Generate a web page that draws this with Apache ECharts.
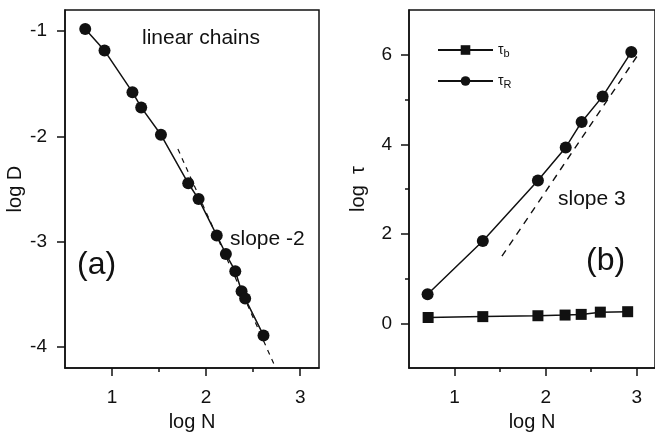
<!DOCTYPE html>
<html>
<head>
<meta charset="utf-8">
<script src="https://cdn.jsdelivr.net/npm/echarts@6/dist/echarts.min.js"></script>
<style>
  html, body { margin: 0; padding: 0; background: #fff; }
  #chart { width: 655px; height: 437px; }
</style>
</head>
<body>
<div id="chart"></div>
<script>
// panel (a): linear chains, log D vs log N
var logN_a = [0.715, 0.92, 1.217, 1.31, 1.52, 1.81, 1.92, 2.113, 2.21, 2.31, 2.377, 2.415, 2.61]
var logD = [-0.98, -1.185, -1.58, -1.725, -1.985, -2.445, -2.595, -2.94, -3.117, -3.28, -3.47, -3.54, -3.89]
var slopeA_N = [1.70, 2.73]
var slopeA_D = [-2.12, -4.18]

// panel (b): relaxation times
var logN_b = [0.71, 1.31, 1.915, 2.213, 2.39, 2.60, 2.90]
var tauB = [0.13, 0.15, 0.17, 0.185, 0.2, 0.25, 0.26]
var logN_r = [0.704, 1.31, 1.915, 2.22, 2.395, 2.625, 2.94]
var tauR = [0.65, 1.84, 3.19, 3.93, 4.50, 5.07, 6.06]
var slopeB_N = [1.52, 3.01]
var slopeB_T = [1.50, 5.99]

var xTicks = [1, 2, 3]
var xMinorTicks = [1.5, 2.5]
var yTicksA = [-4, -3, -2, -1]
var yTicksB = [0, 2, 4, 6]
var yMinorTicksB = [1, 3, 5]

var ink = '#111'
var font = 'Liberation Sans, Arial, sans-serif'

function pairs(xs, ys) {
  return xs.map(function (x, i) { return [x, ys[i]] })
}

function mainX(grid, name) {
  return {
    type: 'value', gridIndex: grid, position: 'bottom', min: 0.5, max: 3.2,
    name: name, nameLocation: 'middle', nameGap: 38,
    nameTextStyle: { color: ink, fontSize: 20, fontFamily: font },
    axisLine: { onZero: false, lineStyle: { color: ink, width: 1.5 } },
    axisTick: { customValues: xTicks, length: 8, lineStyle: { color: ink, width: 1.5 } },
    axisLabel: { customValues: xTicks, margin: 20, color: ink, fontSize: 19, fontFamily: font },
    splitLine: { show: false }
  }
}

function minorX(grid) {
  return {
    type: 'value', gridIndex: grid, position: 'bottom', min: 0.5, max: 3.2,
    axisLine: { show: false, onZero: false },
    axisTick: { customValues: xMinorTicks, length: 4, lineStyle: { color: ink, width: 1.5 } },
    axisLabel: { show: false },
    splitLine: { show: false }
  }
}

var chart = echarts.init(document.getElementById('chart'))

var option = {
  backgroundColor: '#fff',
  animation: false,
  grid: [
    { left: 65, top: 10, width: 254, height: 361, show: true, borderColor: ink, borderWidth: 1.5 },
    { left: 409, top: 10, width: 253, height: 361, show: true, borderColor: ink, borderWidth: 1.5 }
  ],
  xAxis: [mainX(0, 'log N'), minorX(0), mainX(1, 'log N'), minorX(1)],
  yAxis: [
    {
      type: 'value', gridIndex: 0, position: 'left', min: -4.2, max: -0.8,
      name: 'log D', nameLocation: 'middle', nameGap: 40,
      nameTextStyle: { color: ink, fontSize: 20, fontFamily: font },
      axisLine: { onZero: false, lineStyle: { color: ink, width: 1.5 } },
      axisTick: { customValues: yTicksA, length: 8, lineStyle: { color: ink, width: 1.5 } },
      axisLabel: { customValues: yTicksA, margin: 18, color: ink, fontSize: 19, fontFamily: font },
      splitLine: { show: false }
    },
    {
      type: 'value', gridIndex: 1, position: 'left', min: -1, max: 7,
      name: 'log  τ', nameLocation: 'middle', nameGap: 41,
      nameTextStyle: { color: ink, fontSize: 20, fontFamily: font },
      axisLine: { onZero: false, lineStyle: { color: ink, width: 1.5 } },
      axisTick: { customValues: yTicksB, length: 8, lineStyle: { color: ink, width: 1.5 } },
      axisLabel: { customValues: yTicksB, margin: 17, color: ink, fontSize: 19, fontFamily: font },
      splitLine: { show: false }
    },
    {
      type: 'value', gridIndex: 1, position: 'left', min: -1, max: 7,
      axisLine: { show: false, onZero: false },
      axisTick: { customValues: yMinorTicksB, length: 4, lineStyle: { color: ink, width: 1.5 } },
      axisLabel: { show: false },
      splitLine: { show: false }
    }
  ],
  legend: {
    left: 432, top: 38, orient: 'vertical',
    itemWidth: 55, itemHeight: 12, itemGap: 15,
    data: ['tau_b', 'tau_R'],
    formatter: function (name) {
      return '{t|τ}{s|' + name.split('_')[1] + '}'
    },
    textStyle: {
      color: ink,
      rich: {
        t: { fontSize: 14, fontFamily: font, color: ink },
        s: { fontSize: 11, fontFamily: font, color: ink, verticalAlign: 'bottom', padding: [7, 0, 0, 0] }
      }
    }
  },
  series: [
    {
      name: 'logD', type: 'line', xAxisIndex: 0, yAxisIndex: 0,
      data: pairs(logN_a, logD),
      symbol: 'circle', symbolSize: 12,
      itemStyle: { color: ink }, lineStyle: { color: ink, width: 1.5 }
    },
    {
      name: 'slope -2', type: 'line', xAxisIndex: 0, yAxisIndex: 0,
      data: pairs(slopeA_N, slopeA_D), symbol: 'none',
      lineStyle: { color: ink, width: 1.2, type: [5, 5] }
    },
    {
      name: 'tau_b', type: 'line', xAxisIndex: 2, yAxisIndex: 1,
      data: pairs(logN_b, tauB),
      symbol: 'rect', symbolSize: 11,
      itemStyle: { color: ink }, lineStyle: { color: ink, width: 1.5 }
    },
    {
      name: 'tau_R', type: 'line', xAxisIndex: 2, yAxisIndex: 1,
      data: pairs(logN_r, tauR),
      symbol: 'circle', symbolSize: 12,
      itemStyle: { color: ink }, lineStyle: { color: ink, width: 1.5 }
    },
    {
      name: 'slope 3', type: 'line', xAxisIndex: 2, yAxisIndex: 1,
      data: pairs(slopeB_N, slopeB_T), symbol: 'none',
      lineStyle: { color: ink, width: 1.4, type: [7, 6] }
    }
  ],
  graphic: [
    { type: 'text', left: 142, top: 28, style: { text: 'linear chains', fill: ink, fontSize: 21, fontFamily: font } },
    { type: 'text', left: 230, top: 229, style: { text: 'slope -2', fill: ink, fontSize: 21, fontFamily: font } },
    { type: 'text', left: 77, top: 249, style: { text: '(a)', fill: ink, fontSize: 32, fontFamily: font } },
    { type: 'text', left: 558, top: 189, style: { text: 'slope 3', fill: ink, fontSize: 21, fontFamily: font } },
    { type: 'text', left: 586, top: 245, style: { text: '(b)', fill: ink, fontSize: 32, fontFamily: font } }
  ]
}

chart.setOption(option)
</script>
</body>
</html>
